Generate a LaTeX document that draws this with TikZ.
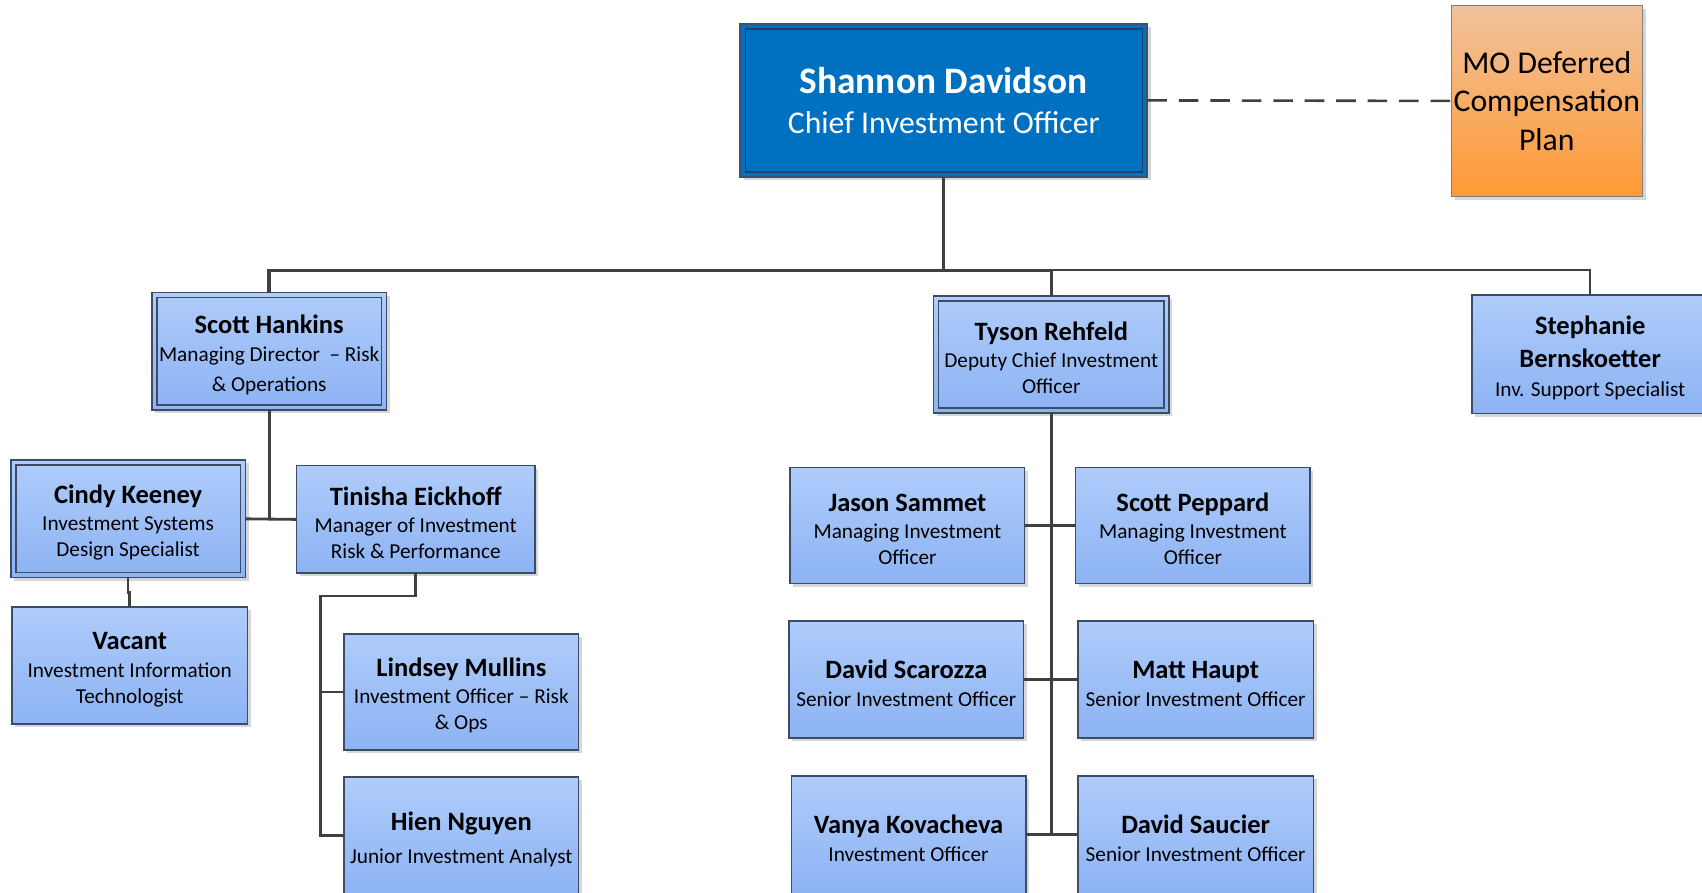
\documentclass[tikz,border=0pt]{standalone}
\usepackage{fontspec}
\setmainfont{Carlito}
\usetikzlibrary{shadows,calc}
\definecolor{btop}{HTML}{AFCCFA}
\definecolor{bbot}{HTML}{8DB3F4}
\definecolor{bline}{HTML}{3C4B66}
\definecolor{conn}{HTML}{404040}
\definecolor{ceo}{HTML}{0070C0}
\definecolor{ceoline}{HTML}{3A5270}
\definecolor{ceoinner}{HTML}{1E3F66}
\definecolor{otop}{HTML}{F2C29C}
\definecolor{obot}{HTML}{FE9934}
\definecolor{oline}{HTML}{7F7F7F}
\tikzset{
  softshadow/.style={general shadow={fill=black!16, shadow xshift=1.5pt, shadow yshift=-1.5pt}},
  person/.style={rectangle, inner sep=0pt, outer sep=0pt, draw=bline, line width=0.7pt,
    top color=btop, bottom color=bbot, align=center, text=black,
    font=\fontsize{9.8}{11.8}\selectfont, softshadow,
    minimum width=108pt, minimum height=54pt},
  framed/.style={path picture={\draw[#1, line width=0.7pt]
    ([shift={(2.3pt,-2.3pt)}]path picture bounding box.north west) rectangle
    ([shift={(-2.3pt,2.3pt)}]path picture bounding box.south east);}},
  framed/.default=bline,
  link/.style={draw=conn, line width=1.3pt},
}
\newcommand{\pname}[1]{{\fontsize{12.2}{14}\selectfont\bfseries #1}}
\newcommand{\fname}[1]{\rule{0pt}{11.8pt}\pname{#1}}
\begin{document}
\begin{tikzpicture}[x=0.5pt, y=-0.5pt]
\useasboundingbox (0,0) rectangle (1568,822);

% top level
\node[rectangle, inner sep=0pt, outer sep=0pt, draw=ceoline, line width=0.8pt, fill=ceo,
  framed=ceoinner, text=white, align=center, softshadow,
  font=\fontsize{14.6}{18.5}\selectfont, minimum width=187.5pt, minimum height=70.5pt]
  (shannon) at (869.5,92.5)
  {{\fontsize{17.2}{18.5}\selectfont\bfseries Shannon Davidson}\\Chief Investment Officer};
\node[rectangle, inner sep=0pt, outer sep=0pt, draw=oline, line width=0.7pt,
  top color=otop, bottom color=obot, align=center, softshadow,
  font=\fontsize{14.6}{17.75}\selectfont, minimum width=88pt, minimum height=88pt]
  (mo) at (1425,93) {MO Deferred\\Compensation\\Plan};

% second level
\node[person, framed] (hankins) at (248,323.5)
  {\fname{Scott Hankins}\\[1.2pt]Managing Director \ -- Risk\\[1.7pt]\& Operations};
\node[person, framed, minimum width=108.5pt] (tyson) at (968.5,326.5)
  {\fname{Tyson Rehfeld}\\[0.7pt]Deputy Chief Investment\\Officer};
\node[person, minimum width=109pt, minimum height=54.5pt] (steph) at (1465,326.5)
  {\fname{Stephanie}\\[3.2pt]\pname{Bernskoetter}\\[1.7pt]Inv. Support Specialist};

% risk & operations branch
\node[person, framed] (cindy) at (118,478)
  {\fname{Cindy Keeney}\\[0.7pt]Investment Systems\\Design Specialist};
\node[person, minimum width=110pt, minimum height=49.5pt] (tinisha) at (383,478.5)
  {\fname{Tinisha Eickhoff}\\[0.7pt]Manager of Investment\\Risk \& Performance};
\node[person, minimum width=108.5pt] (vacant) at (119.5,613)
  {\fname{Vacant}\\[1.2pt]Investment Information\\Technologist};
\node[person, minimum height=53.5pt] (lindsey) at (425,637.5)
  {\fname{Lindsey Mullins}\\[0.7pt]Investment Officer -- Risk\\[0.3pt]\& Ops};
\node[person] (hien) at (425,770)
  {\fname{Hien Nguyen}\\[3.2pt]Junior Investment Analyst};

% deputy CIO branch
\node[person, minimum height=53.5pt] (jason) at (836,484)
  {\fname{Jason Sammet}\\[0.7pt]Managing Investment\\Officer};
\node[person, minimum height=53.5pt] (peppard) at (1099,484)
  {\fname{Scott Peppard}\\[0.7pt]Managing Investment\\Officer};
\node[person] (scarozza) at (835,626)
  {\fname{David Scarozza}\\[1.2pt]Senior Investment Officer};
\node[person, minimum width=108.5pt] (haupt) at (1101.5,626)
  {\fname{Matt Haupt}\\[1.2pt]Senior Investment Officer};
\node[person] (vanya) at (837,769)
  {\fname{Vanya Kovacheva}\\[0.7pt]Investment Officer};
\node[person, minimum width=108.5pt] (saucier) at (1101.5,769)
  {\fname{David Saucier}\\[1.2pt]Senior Investment Officer};

% connectors
\coordinate (bus) at (869.5,249);
\draw[link, dash pattern=on 9pt off 5.5pt, line width=1.2pt] (shannon.east) -- (mo.west);
\draw[link] (shannon.south) -- (bus);
\draw[link, line width=1.6pt] (hankins.north) |- (bus) -- (tyson.north |- bus);
\draw[link, line width=1.1pt] (tyson.north |- bus) -| (steph.north);
\draw[link] (tyson.north) -- (tyson.north |- bus);

\draw[link] (hankins.south) -- (hankins.south |- cindy.east);
\draw[link] (cindy.east) -- (tinisha.west);
\draw[link] (cindy.south) |- ([yshift=6.5pt]vacant.north) -- (vacant.north);
\coordinate (tv) at (295,549);
\draw[link] (tinisha.south) |- (tv) |- (hien.west);
\draw[link] (tv |- lindsey.west) -- (lindsey.west);

\draw[link] (tyson.south) -- (tyson.south |- vanya.east);
\draw[link] (jason.east) -- (peppard.west);
\draw[link] (scarozza.east) -- (haupt.west);
\draw[link] (vanya.east) -- (saucier.west);
\end{tikzpicture}
\end{document}
